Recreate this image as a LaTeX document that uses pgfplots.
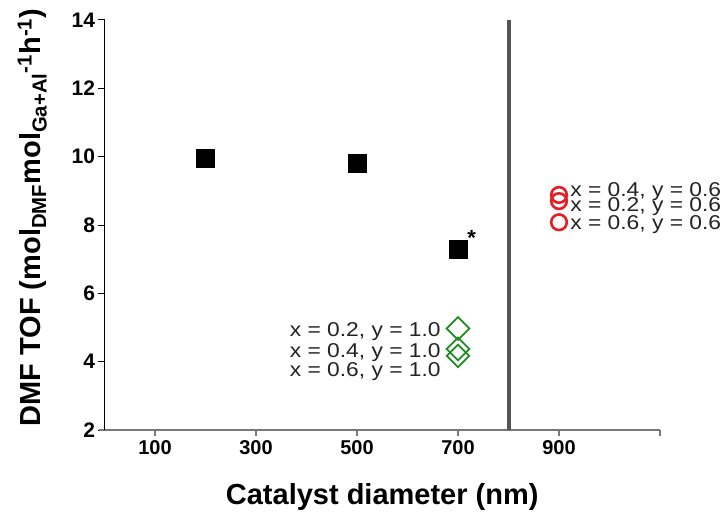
\documentclass[border=0pt]{standalone}
\usepackage{fontspec}
\setmainfont{Liberation Sans}
\usepackage{graphicx}
\usepackage{pgfplots}
\pgfplotsset{compat=1.18}
\definecolor{mkgreen}{RGB}{30,140,30}
\definecolor{mkred}{RGB}{230,30,35}
\definecolor{axgray}{RGB}{120,120,120}
\definecolor{vlgray}{RGB}{85,85,85}
\definecolor{txtgray}{RGB}{35,35,35}
\newcommand{\ann}[1]{\scalebox{1.14}[1]{\fontsize{20}{20}\selectfont #1}}
\begin{document}
\begin{tikzpicture}
\path[use as bounding box] (0pt,0pt) rectangle (728pt,523pt);
\begin{axis}[
  at={(104.5pt,93pt)}, anchor=south west,
  scale only axis, width=555.5pt, height=410pt,
  xmin=0, xmax=1100, ymin=2, ymax=14,
  axis lines*=left, axis line style={-},
  x axis line style={draw=axgray, line width=2.8pt, shorten <=-6pt},
  y axis line style={draw=black, line width=1.2pt},
  xtick={100,300,500,700,900,1100},
  xticklabels={100,300,500,700,900,{}},
  ytick={2,4,6,8,10,12,14},
  tick align=outside, major tick length=6pt,
  x tick style={draw=axgray, line width=1.5pt},
  y tick style={draw=black, line width=1pt},
  /pgf/number format/assume math mode=true,
  tick label style={font=\fontsize{20}{20}\selectfont\bfseries},
  yticklabel style={font=\fontsize{21}{21}\selectfont\bfseries},
  xticklabel style={yshift=-1pt},
  label style={font=\fontsize{29}{32}\selectfont\bfseries},
  xlabel={Catalyst diameter (nm)},
  xlabel style={at={(axis description cs:0.5,-0.163)}, anchor=center},
  ylabel={DMF TOF (mol\textsubscript{DMF}mol\textsubscript{Ga+Al}\textsuperscript{-1}h\textsuperscript{-1})},
  ylabel style={at={(axis description cs:-0.13,0.518)}, anchor=center},
  clip=false,
]
\addplot[vlgray, line width=4pt] coordinates {(800,2) (800,14)};
\addplot[only marks, mark=square*, mark size=9pt, black] coordinates {(200,9.95) (500,9.81) (700,7.29)};
\addplot[only marks, mark=square, mark size=8pt, mark options={rotate=45, draw=mkgreen, line width=1.8pt}] coordinates {(700,4.97) (700,4.37) (700,4.17)};
\addplot[only marks, mark=o, mark size=7.8pt, mark options={draw=mkred, line width=2.6pt}] coordinates {(900,8.88) (900,8.70) (900,8.08)};
\node[anchor=east, inner sep=0pt, txtgray] at (axis cs:666,4.87) {\ann{x = 0.2, y = 1.0}};
\node[anchor=east, inner sep=0pt, txtgray] at (axis cs:666,4.28) {\ann{x = 0.4, y = 1.0}};
\node[anchor=east, inner sep=0pt, txtgray] at (axis cs:666,3.70) {\ann{x = 0.6, y = 1.0}};
\node[anchor=west, inner sep=0pt, txtgray] at (axis cs:922,8.99) {\ann{x = 0.4, y = 0.6}};
\node[anchor=west, inner sep=0pt, txtgray] at (axis cs:922,8.53) {\ann{x = 0.2, y = 0.6}};
\node[anchor=west, inner sep=0pt, txtgray] at (axis cs:922,8.00) {\ann{x = 0.6, y = 0.6}};
\node[inner sep=0pt, font=\fontsize{22}{22}\selectfont\bfseries] at (axis cs:727,7.62) {*};
\end{axis}
\end{tikzpicture}
\end{document}
